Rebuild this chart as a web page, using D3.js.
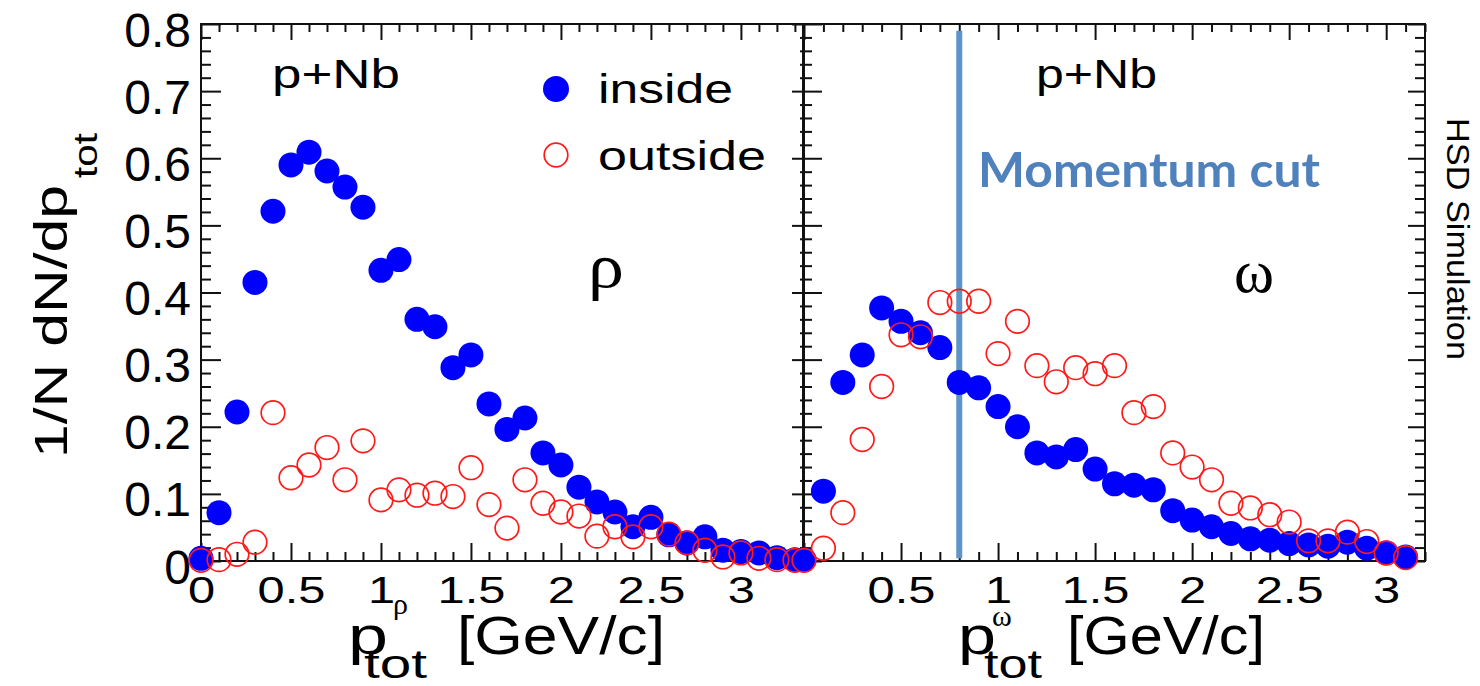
<!DOCTYPE html>
<html>
<head>
<meta charset="utf-8">
<script src="https://cdn.jsdelivr.net/npm/d3@7"></script>
<style>
  body { margin: 0; background: #fff; }
  text { font-family: "Liberation Sans", Arial, sans-serif; }
</style>
</head>
<body>
<script>
// Bin centres (GeV/c) for the two panels
var pRho = [0, 0.1, 0.2, 0.3, 0.4, 0.5, 0.6, 0.7, 0.8, 0.9, 1.0, 1.1, 1.2, 1.3, 1.4, 1.5, 1.6,
  1.7, 1.8, 1.9, 2.0, 2.1, 2.2, 2.3, 2.4, 2.5, 2.6, 2.7, 2.8, 2.9, 3.0, 3.1, 3.2, 3.3];
var pOmega = [0, 0.1, 0.2, 0.3, 0.4, 0.5, 0.6, 0.7, 0.8, 0.9, 1.0, 1.1, 1.2, 1.3, 1.4, 1.5, 1.6,
  1.7, 1.8, 1.9, 2.0, 2.1, 2.2, 2.3, 2.4, 2.5, 2.6, 2.7, 2.8, 2.9, 3.0, 3.1];

// rho: 1/N dN/dp, inside / outside
var rhoInside = [0.004, 0.072, 0.222, 0.415, 0.521, 0.590, 0.609, 0.581, 0.557, 0.527, 0.433, 0.449,
  0.360, 0.349, 0.288, 0.307, 0.234, 0.196, 0.213, 0.161, 0.143, 0.110, 0.088, 0.073, 0.051, 0.065,
  0.039, 0.027, 0.036, 0.016, 0.014, 0.012, 0.005, 0.002];
var rhoOutside = [0.001, 0.002, 0.010, 0.028, 0.221, 0.124, 0.143, 0.169, 0.121, 0.179, 0.091, 0.106,
  0.098, 0.101, 0.096, 0.139, 0.084, 0.049, 0.121, 0.086, 0.073, 0.067, 0.037, 0.051, 0.036, 0.051,
  0.040, 0.027, 0.016, 0.006, 0.012, 0.004, 0.002, 0.001];

// omega: 1/N dN/dp, inside / outside
var omegaInside = [0.002, 0.104, 0.266, 0.307, 0.377, 0.357, 0.340, 0.318, 0.266, 0.258, 0.230, 0.200,
  0.161, 0.155, 0.166, 0.137, 0.115, 0.113, 0.106, 0.075, 0.061, 0.051, 0.041, 0.033, 0.031, 0.026,
  0.024, 0.022, 0.028, 0.019, 0.012, 0.006];
var omegaOutside = [0.001, 0.019, 0.072, 0.181, 0.260, 0.337, 0.334, 0.385, 0.387, 0.387, 0.309, 0.357,
  0.291, 0.267, 0.288, 0.279, 0.291, 0.221, 0.230, 0.161, 0.140, 0.121, 0.086, 0.079, 0.069, 0.058,
  0.030, 0.030, 0.043, 0.029, 0.012, 0.005];

// Tick labels
var xMajor = [0, 0.5, 1, 1.5, 2, 2.5, 3];
var yMajor = [0, 0.1, 0.2, 0.3, 0.4, 0.5, 0.6, 0.7, 0.8];
var legendLabels = ["inside", "outside"];
var momentumCut = 0.8;

var svgWidth = 1480;
var svgHeight = 686;

var svg = d3.select("body")
  .append("svg")
  .attr("width", svgWidth)
  .attr("height", svgHeight);

svg.append("rect").attr("width", svgWidth).attr("height", svgHeight).attr("fill", "#fff");

// Shared y scale
var yScale = d3.scaleLinear().domain([0, 0.8]).range([561, 24]);

// One x scale per panel
var xRho = d3.scaleLinear().domain([0, 3.345]).range([201, 803]);
var xOmega = d3.scaleLinear().domain([0, 3.2]).range([804, 1425]);

var yMinor = d3.range(0, 41).map(i => i / 50).filter(v => Math.round(v * 50) % 5 !== 0);

// text helper: width stretched to match the picture
function label(g, str, x, y, size, width, opts) {
  opts = opts || {};
  var t = g.append("text")
    .attr("x", x)
    .attr("y", y)
    .attr("font-size", size)
    .attr("fill", opts.fill || "#000")
    .text(str);
  if (width) t.attr("textLength", width).attr("lengthAdjust", "spacingAndGlyphs");
  if (opts.family) t.style("font-family", opts.family);
  if (opts.weight) t.attr("font-weight", opts.weight);
  if (opts.anchor) t.attr("text-anchor", opts.anchor);
  return t;
}

function styleAxis(sel) {
  sel.select(".domain").remove();
  sel.selectAll("line").attr("stroke", "#111").attr("stroke-width", 2);
}

function drawPanel(x, opts) {
  var g = svg.append("g");
  var xMax = x.domain()[1];
  var xMinor = d3.range(0, Math.floor(xMax * 10 + 1e-6) + 1).map(i => i / 10)
    .filter(v => Math.round(v * 10) % 5 !== 0);

  // bottom axis with labels
  var bottom = g.append("g")
    .attr("transform", "translate(0," + yScale(0) + ")")
    .call(d3.axisBottom(x).tickValues(xMajor).tickSizeInner(-18).tickSizeOuter(0)
      .tickFormat(d => (d === 0 && !opts.zeroLabel) ? "" : String(d)));
  styleAxis(bottom);
  bottom.selectAll("text")
    .attr("y", 42).attr("dy", 0)
    .attr("font-size", 37)
    .attr("fill", "#000")
    .attr("transform", "scale(1.32,1)");

  g.append("g")
    .attr("transform", "translate(0," + yScale(0) + ")")
    .call(d3.axisBottom(x).tickValues(xMinor).tickSize(-9).tickFormat(""))
    .call(styleAxis);

  // top axis
  g.append("g")
    .attr("transform", "translate(0," + yScale(0.8) + ")")
    .call(d3.axisTop(x).tickValues(xMajor).tickSize(-16).tickFormat(""))
    .call(styleAxis);
  g.append("g")
    .attr("transform", "translate(0," + yScale(0.8) + ")")
    .call(d3.axisTop(x).tickValues(xMinor).tickSize(-8).tickFormat(""))
    .call(styleAxis);

  // left axis
  var left = g.append("g")
    .attr("transform", "translate(" + x(0) + ",0)")
    .call(d3.axisLeft(yScale).tickValues(yMajor).tickSizeInner(opts.leftMajor).tickSizeOuter(0)
      .tickPadding(10)
      .tickFormat(d => opts.yLabels ? (d === 0 ? "0" : d.toFixed(1)) : ""));
  styleAxis(left);
  left.selectAll("text")
    .attr("dy", "0.46em")
    .attr("font-size", 48)
    .attr("fill", "#000");
  g.append("g")
    .attr("transform", "translate(" + x(0) + ",0)")
    .call(d3.axisLeft(yScale).tickValues(yMinor).tickSize(opts.leftMinor).tickFormat(""))
    .call(styleAxis);

  // right axis
  g.append("g")
    .attr("transform", "translate(" + x(xMax) + ",0)")
    .call(d3.axisRight(yScale).tickValues(yMajor).tickSize(opts.rightMajor).tickFormat(""))
    .call(styleAxis);
  g.append("g")
    .attr("transform", "translate(" + x(xMax) + ",0)")
    .call(d3.axisRight(yScale).tickValues(yMinor).tickSize(opts.rightMinor).tickFormat(""))
    .call(styleAxis);

  // frame
  g.append("rect")
    .attr("x", x(0))
    .attr("y", yScale(0.8))
    .attr("width", x(xMax) - x(0))
    .attr("height", yScale(0) - yScale(0.8))
    .attr("fill", "none")
    .attr("stroke", "#111")
    .attr("stroke-width", 2);

  return g;
}

function drawPoints(g, x, ps, inside, outside) {
  g.append("g").selectAll("circle")
    .data(ps)
    .join("circle")
    .attr("cx", (d, i) => x(d))
    .attr("cy", (d, i) => yScale(inside[i]))
    .attr("r", 12.5)
    .attr("fill", "#0000ff");

  g.append("g").selectAll("circle")
    .data(ps)
    .join("circle")
    .attr("cx", (d, i) => x(d))
    .attr("cy", (d, i) => yScale(outside[i]))
    .attr("r", 11.8)
    .attr("fill", "none")
    .attr("stroke", "#ff1a1a")
    .attr("stroke-width", 1.7);
}

var rhoPanel = drawPanel(xRho, { zeroLabel: true, yLabels: true, leftMajor: -20, leftMinor: -10, rightMajor: -11, rightMinor: -3 });
var omegaPanel = drawPanel(xOmega, { zeroLabel: false, yLabels: false, leftMajor: -18, leftMinor: -8, rightMajor: -17, rightMinor: -10 });

// momentum cut line (behind the points)
omegaPanel.append("line")
  .attr("x1", xOmega(momentumCut))
  .attr("x2", xOmega(momentumCut))
  .attr("y1", yScale(0.79))
  .attr("y2", yScale(0.004))
  .attr("stroke", "#5e94c9")
  .attr("stroke-width", 6);

drawPoints(rhoPanel, xRho, pRho, rhoInside, rhoOutside);
drawPoints(omegaPanel, xOmega, pOmega, omegaInside, omegaOutside);

// in-panel texts
label(svg, "p+Nb", 272, 88, 40, 128);
label(svg, "p+Nb", 1036, 88, 40, 121);
label(svg, "ρ", 606, 287, 64, 36, { family: "'Liberation Serif', serif", anchor: "middle" });
label(svg, "ω", 1254, 292, 62, 40, { family: "'Liberation Serif', serif", anchor: "middle" });
label(svg, "Momentum cut", 978, 187, 47, 342, { family: "Lato, 'Open Sans', sans-serif", weight: "bold", fill: "#4f81bd" });

// legend
var legend = svg.append("g");
legend.append("circle").attr("cx", 556).attr("cy", 89).attr("r", 13).attr("fill", "#0000ff");
legend.append("circle").attr("cx", 556).attr("cy", 155).attr("r", 11.8)
  .attr("fill", "none").attr("stroke", "#ff1a1a").attr("stroke-width", 1.7);
label(legend, legendLabels[0], 598, 103, 40, 135);
label(legend, legendLabels[1], 598, 170, 40, 168);

// y axis title
var yTitle = svg.append("g").attr("transform", "translate(67,458) rotate(-90)");
label(yTitle, "1/N dN/dp", 0, 0, 47, 273);
label(yTitle, "tot", 280, 30, 34, 45);

// x axis titles
label(svg, "p", 348, 654, 54, 40);
label(svg, "ρ", 393, 614, 30, null, { family: "'Liberation Serif', serif" });
label(svg, "tot", 364, 678, 40, 63);
label(svg, "[GeV/c]", 457, 654, 54, 208);

label(svg, "p", 958, 654, 54, 38);
label(svg, "ω", 992, 626, 30, null, { family: "'Liberation Serif', serif" });
label(svg, "tot", 984, 678, 40, 58);
label(svg, "[GeV/c]", 1067, 654, 54, 198);

// side note
var side = svg.append("g").attr("transform", "translate(1447,118) rotate(90)");
label(side, "HSD Simulation", 0, 0, 32, 242);
</script>
</body>
</html>
